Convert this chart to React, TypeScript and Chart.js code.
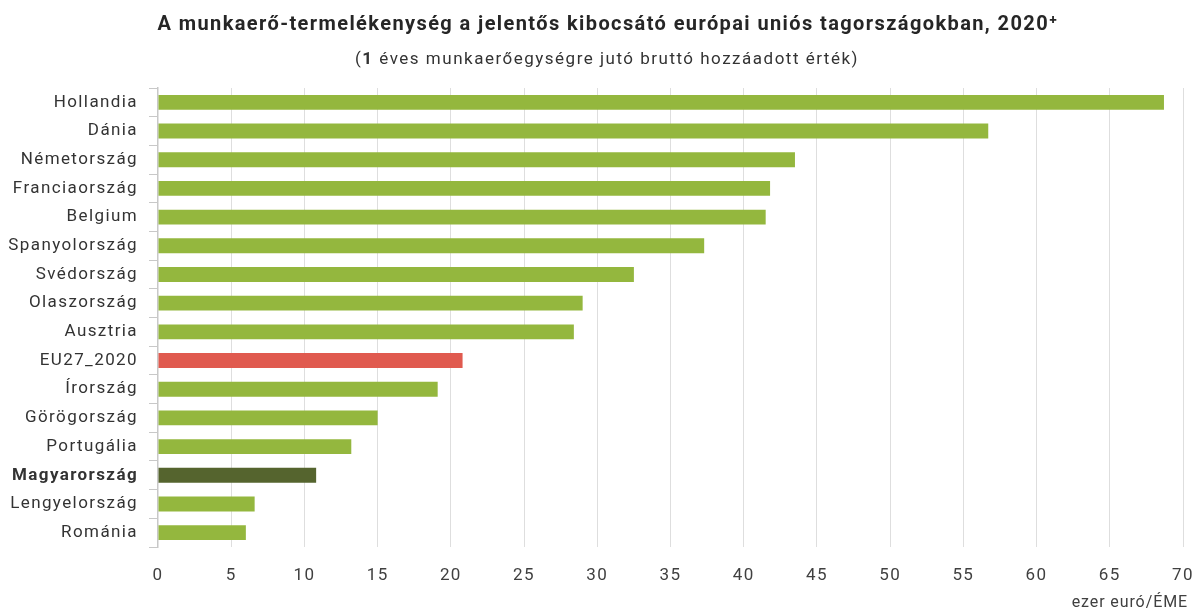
import React, { useEffect, useRef } from "react";
import { Chart, registerables } from "chart.js";

Chart.register(...registerables);

const categories = [
  "Hollandia",
  "Dánia",
  "Németország",
  "Franciaország",
  "Belgium",
  "Spanyolország",
  "Svédország",
  "Olaszország",
  "Ausztria",
  "EU27_2020",
  "Írország",
  "Görögország",
  "Portugália",
  "Magyarország",
  "Lengyelország",
  "Románia",
];

const values = [68.7, 56.7, 43.5, 41.8, 41.5, 37.3, 32.5, 29.0, 28.4, 20.8, 19.1, 15.0, 13.2, 10.8, 6.6, 6.0];

const GREEN = "#94b73e";
const RED = "#e05a4f";
const DARK = "#55642e";

const barColors = categories.map((c) =>
  c === "EU27_2020" ? RED : c === "Magyarország" ? DARK : GREEN
);

const titleText = "A munkaerő-termelékenység a jelentős kibocsátó európai uniós tagországokban, 2020⁺";
const subtitleParts = [
  { text: "(", bold: false },
  { text: "1", bold: true },
  { text: " éves munkaerőegységre jutó bruttó hozzáadott érték)", bold: false },
];
const xAxisTitle = "ezer euró/ÉME";

const FONT = "Roboto";

const titlePlugin = {
  id: "customTitles",
  beforeDraw(chart: any) {
    (chart.ctx as any).letterSpacing = "1.4px";
  },
  afterDraw(chart: any) {
    const ctx = chart.ctx as any;
    ctx.save();
    ctx.textBaseline = "alphabetic";
    // title
    ctx.letterSpacing = "1.4px";
    ctx.font = `bold 20px ${FONT}`;
    ctx.fillStyle = "#262626";
    ctx.textAlign = "center";
    ctx.fillText(titleText, 608, 30);
    // subtitle
    ctx.letterSpacing = "1.5px";
    ctx.textAlign = "left";
    ctx.fillStyle = "#333333";
    let total = 0;
    for (const p of subtitleParts) {
      ctx.font = `${p.bold ? "bold " : ""}17px ${FONT}`;
      total += ctx.measureText(p.text).width;
    }
    let x = 607 - total / 2;
    for (const p of subtitleParts) {
      ctx.font = `${p.bold ? "bold " : ""}17px ${FONT}`;
      ctx.fillText(p.text, x, 64);
      x += ctx.measureText(p.text).width;
    }
    // x axis title
    ctx.letterSpacing = "0.9px";
    ctx.font = `16px ${FONT}`;
    ctx.fillStyle = "#404040";
    ctx.textAlign = "right";
    ctx.fillText(xAxisTitle, 1188, 607);
    ctx.restore();
  },
};

export default function App() {
  const ref = useRef<HTMLCanvasElement | null>(null);

  useEffect(() => {
    document.body.style.margin = "0";
    const ctx = ref.current;
    if (!ctx) return;
    const chart = new Chart(ctx, {
      type: "bar",
      data: {
        labels: categories,
        datasets: [
          {
            data: values,
            backgroundColor: barColors,
            borderWidth: 0,
            barPercentage: 0.52,
            categoryPercentage: 1,
          },
        ],
      },
      plugins: [titlePlugin],
      options: {
        indexAxis: "y",
        animation: false,
        responsive: false,
        maintainAspectRatio: false,
        layout: { padding: { left: 0, right: 13, top: 88, bottom: 0 } },
        plugins: {
          legend: { display: false },
          tooltip: { enabled: false },
          title: { display: false },
        },
        scales: {
          x: {
            type: "linear",
            min: 0,
            max: 70,
            ticks: {
              stepSize: 5,
              padding: 19,
              color: "#404040",
              font: { family: FONT, size: 17, lineHeight: 1.2 },
            },
            grid: {
              drawTicks: false,
              color: (c: any) => (c.index === 0 ? "rgba(0,0,0,0)" : "#dedede"),
              lineWidth: 1,
            },
            border: { display: false },
            title: { display: false },
            afterFit: (scale: any) => {
              scale.height = 64;
              scale.paddingRight = 0;
              scale.paddingLeft = 0;
            },
          },
          y: {
            type: "category",
            ticks: {
              padding: 11,
              color: "#333333",
              font: (c: any) => ({
                family: FONT,
                size: 17,
                weight: categories[c.index] === "Magyarország" ? "bold" : "normal",
              }),
            },
            grid: {
              drawOnChartArea: false,
              drawTicks: true,
              tickLength: 9,
              color: "#c8c8c8",
              offset: true,
            },
            border: { display: true, color: "#c8c8c8", width: 1.5 },
            afterFit: (scale: any) => {
              scale.width = 158;
            },
          },
        },
      },
    });
    return () => chart.destroy();
  }, []);

  return (
    <div style={{ width: 1196, height: 611 }}>
      <canvas ref={ref} width={1196} height={611} style={{ display: "block" }} />
    </div>
  );
}
